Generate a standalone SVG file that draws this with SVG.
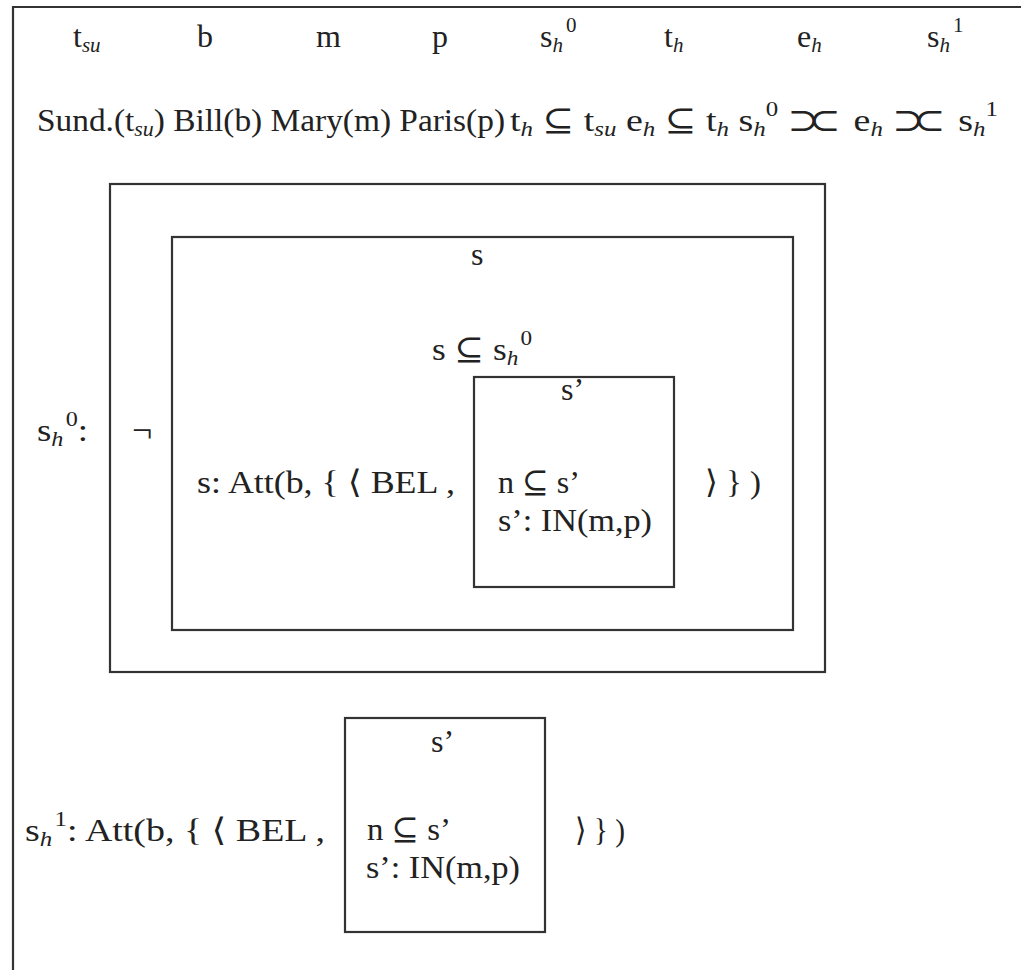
<svg xmlns="http://www.w3.org/2000/svg" width="1021" height="970" viewBox="0 0 1021 970">
<style>
text { font-family: "Liberation Serif", "DejaVu Serif", serif; font-size: 32px; fill: #222; }
.sub { font-size: 21px; font-style: italic; }
.sup { font-size: 21px; }
.ov { letter-spacing: -9px; }
.box { fill: none; stroke: #333; stroke-width: 2.2; }
</style>
<rect width="1021" height="970" fill="#fff"/>
<g id="frame">
  <path class="box" d="M13,970 V7 H1021"/>
</g>
<g id="referents">
  <text x="73" y="47">t<tspan class="sub" dy="5">su</tspan></text>
  <text x="197" y="47">b</text>
  <text x="316" y="47">m</text>
  <text x="432" y="47">p</text>
  <text x="540" y="47">s<tspan class="sub" dy="5">h</tspan><tspan class="sup" dy="-20" dx="3">0</tspan></text>
  <text x="664" y="47">t<tspan class="sub" dy="5">h</tspan></text>
  <text x="797" y="47">e<tspan class="sub" dy="5">h</tspan></text>
  <text x="927" y="47">s<tspan class="sub" dy="5">h</tspan><tspan class="sup" dy="-20" dx="3">1</tspan></text>
</g>
<g id="conditions">
  <text x="37" y="131" textLength="468" lengthAdjust="spacingAndGlyphs">Sund.(t<tspan class="sub" dy="5">su</tspan><tspan dy="-5">) Bill(b) Mary(m) Paris(p)</tspan></text>
  <text x="510" y="131" textLength="488" lengthAdjust="spacingAndGlyphs">t<tspan class="sub" dy="5">h</tspan><tspan dy="-5"> ⊆ t</tspan><tspan class="sub" dy="5">su</tspan><tspan dy="-5"> e</tspan><tspan class="sub" dy="5">h</tspan><tspan dy="-5"> ⊆ t</tspan><tspan class="sub" dy="5">h</tspan><tspan dy="-5"> s</tspan><tspan class="sub" dy="5">h</tspan><tspan class="sup" dy="-20">0</tspan><tspan class="ov" dy="15" dx="8">⊃⊂</tspan><tspan dx="20">e</tspan><tspan class="sub" dy="5">h</tspan><tspan class="ov" dy="-5" dx="8">⊃⊂</tspan><tspan dx="20">s</tspan><tspan class="sub" dy="5">h</tspan><tspan class="sup" dy="-20">1</tspan></text>
</g>
<g id="box-sh0">
  <text x="37" y="441" textLength="51" lengthAdjust="spacingAndGlyphs">s<tspan class="sub" dy="5">h</tspan><tspan class="sup" dy="-20" dx="2">0</tspan><tspan dy="15">:</tspan></text>
  <rect class="box" x="110" y="184" width="715" height="488"/>
  <text x="132" y="442" style="font-size:36px">¬</text>
</g>
<g id="box-s">
  <rect class="box" x="172" y="237" width="621" height="393"/>
  <text x="471" y="265">s</text>
  <text x="432" y="360" textLength="100" lengthAdjust="spacingAndGlyphs">s ⊆ s<tspan class="sub" dy="5">h</tspan><tspan class="sup" dy="-20" dx="2">0</tspan></text>
  <text x="197" y="493" textLength="258" lengthAdjust="spacingAndGlyphs">s: Att(b, { ⟨ BEL  ,</text>
  <text x="705" y="493" textLength="56" lengthAdjust="spacingAndGlyphs">⟩ } )</text>
</g>
<g id="box-s-prime-inner">
  <rect class="box" x="474" y="377" width="200" height="210"/>
  <text x="561" y="400">s’</text>
  <text x="498" y="493" textLength="82" lengthAdjust="spacingAndGlyphs">n ⊆ s’</text>
  <text x="498" y="531" textLength="154" lengthAdjust="spacingAndGlyphs">s’: IN(m,p)</text>
</g>
<g id="sh1-condition">
  <text x="25" y="841" textLength="300" lengthAdjust="spacingAndGlyphs">s<tspan class="sub" dy="5">h</tspan><tspan class="sup" dy="-20" dx="2">1</tspan><tspan dy="15">: Att(b, { ⟨ BEL  ,</tspan></text>
  <text x="575" y="841" textLength="50" lengthAdjust="spacingAndGlyphs">⟩ } )</text>
</g>
<g id="box-s-prime-bottom">
  <rect class="box" x="345" y="718" width="200" height="214"/>
  <text x="431" y="752">s’</text>
  <text x="367" y="840" textLength="84" lengthAdjust="spacingAndGlyphs">n ⊆ s’</text>
  <text x="366" y="878" textLength="154" lengthAdjust="spacingAndGlyphs">s’: IN(m,p)</text>
</g>
<g id="connectors"/>
</svg>
